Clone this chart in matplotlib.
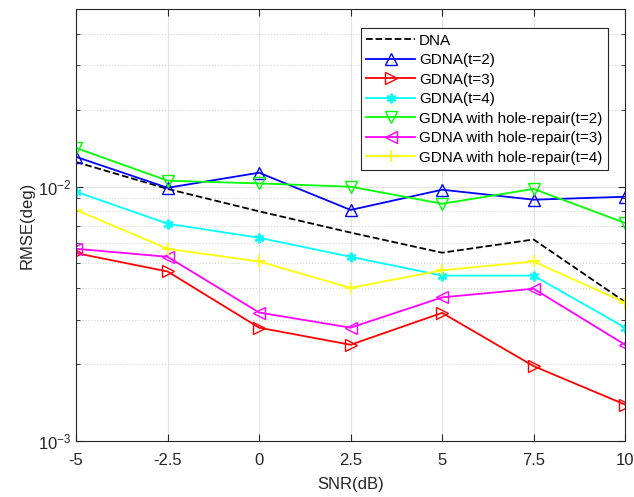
import numpy as np
import matplotlib
matplotlib.use('Agg')
import matplotlib.pyplot as plt
from matplotlib.ticker import FixedLocator, LogLocator, NullFormatter

plt.rcParams['font.family'] = ['Liberation Sans', 'DejaVu Sans']

snr = [-5, -2.5, 0, 2.5, 5, 7.5, 10]
xtick_labels = ['-5', '-2.5', '0', '2.5', '5', '7.5', '10']

dna = [1.25e-2, 0.98e-2, 0.80e-2, 0.66e-2, 0.55e-2, 0.62e-2, 0.352e-2]
gdna_t2 = [1.31e-2, 0.99e-2, 1.135e-2, 0.81e-2, 0.973e-2, 0.889e-2, 0.913e-2]
gdna_t3 = [0.548e-2, 0.464e-2, 0.279e-2, 0.239e-2, 0.319e-2, 0.197e-2, 0.139e-2]
gdna_t4 = [0.956e-2, 0.715e-2, 0.63e-2, 0.53e-2, 0.447e-2, 0.447e-2, 0.279e-2]
hole_t2 = [1.42e-2, 1.056e-2, 1.03e-2, 1.0e-2, 0.857e-2, 0.98e-2, 0.72e-2]
hole_t3 = [0.57e-2, 0.53e-2, 0.32e-2, 0.279e-2, 0.367e-2, 0.397e-2, 0.239e-2]
hole_t4 = [0.81e-2, 0.57e-2, 0.508e-2, 0.40e-2, 0.469e-2, 0.508e-2, 0.35e-2]

fig = plt.figure(figsize=(6.34, 4.97), dpi=100)
ax = fig.add_axes([0.12, 0.1127, 0.866, 0.8693])

lw = 1.3
ms = 9
ax.plot(snr, dna, 'k--', lw=lw, label='DNA')
ax.plot(snr, gdna_t2, color='#0000ff', marker='^', ms=ms, mfc='none', lw=lw, label='GDNA(t=2)')
ax.plot(snr, gdna_t3, color='#ff0000', marker='>', ms=ms, mfc='none', lw=lw, label='GDNA(t=3)')
ax.plot(snr, gdna_t4, color='#00ffff', marker=(6, 2, 0), ms=7, mew=1.5, lw=lw, label='GDNA(t=4)')
ax.plot(snr, hole_t2, color='#00ff00', marker='v', ms=ms, mfc='none', lw=lw, label='GDNA with hole-repair(t=2)')
ax.plot(snr, hole_t3, color='#ff00ff', marker='<', ms=ms, mfc='none', lw=lw, label='GDNA with hole-repair(t=3)')
ax.plot(snr, hole_t4, color='#ffff00', marker='+', ms=ms, mew=1.3, lw=lw, label='GDNA with hole-repair(t=4)')

ax.set_yscale('log')
ax.set_xlim(-5, 10)
ax.set_ylim(1e-3, 5e-2)
ax.xaxis.set_major_locator(FixedLocator(snr))
ax.set_xticklabels(xtick_labels)
ax.yaxis.set_major_locator(FixedLocator([1e-3, 1e-2]))
ax.yaxis.set_minor_locator(LogLocator(base=10, subs=np.arange(2, 10)))
ax.yaxis.set_minor_formatter(NullFormatter())

ax.grid(True, which='major', color='#e3e3e3', lw=0.8)
ax.grid(True, which='minor', axis='y', color='#d5d5d5', lw=0.8, ls=':')
ax.set_axisbelow(True)
ax.tick_params(which='both', direction='in', top=True, right=True, labelsize=12, colors='#262626')
ax.tick_params(axis='x', pad=9)
ax.tick_params(which='major', length=5)
ax.tick_params(which='minor', length=3)
for s in ax.spines.values():
    s.set_color('#262626')

ax.set_xlabel('SNR(dB)', fontsize=12, color='#262626', labelpad=6)
ax.set_ylabel('RMSE(deg)', fontsize=12, color='#262626', labelpad=2)

leg = ax.legend(loc='upper right', bbox_to_anchor=(0.968, 0.955), fontsize=11, fancybox=False,
                edgecolor='#262626', framealpha=1, handlelength=3.2, borderpad=0.35,
                labelspacing=0.36, handletextpad=0.25, borderaxespad=0)
leg.get_frame().set_linewidth(0.8)

fig.savefig('out.png', dpi=100)
